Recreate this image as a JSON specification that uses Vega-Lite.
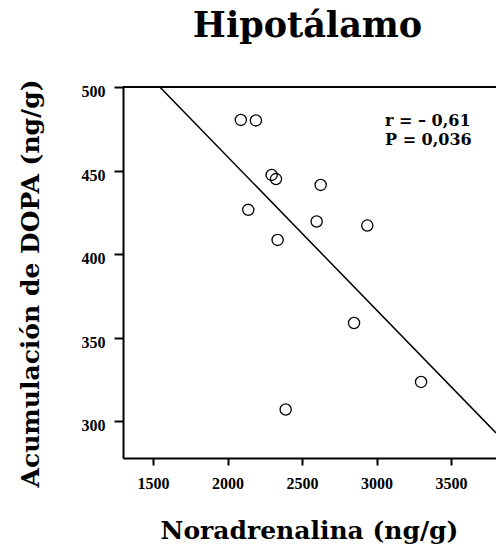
{
  "$schema": "https://vega.github.io/schema/vega-lite/v6.json",
  "width": 373,
  "height": 371,
  "autosize": {"type": "none"},
  "padding": {"left": 123, "top": 87, "right": 0, "bottom": 91},
  "background": "white",
  "config": {"view": {"stroke": null}},
  "title": {
    "text": "Hipotálamo",
    "font": "DejaVu Serif",
    "fontWeight": "bold",
    "fontSize": 35,
    "color": "black",
    "anchor": "middle",
    "frame": "group",
    "baseline": "alphabetic",
    "offset": 48,
    "dx": -2,
    "dy": 41
  },
  "datasets": {
    "points": [
      {"noradrenalina": 2089, "dopa": 480.3},
      {"noradrenalina": 2190, "dopa": 480.0},
      {"noradrenalina": 2296, "dopa": 447.4},
      {"noradrenalina": 2325, "dopa": 444.9},
      {"noradrenalina": 2625, "dopa": 441.4},
      {"noradrenalina": 2139, "dopa": 426.5},
      {"noradrenalina": 2598, "dopa": 419.5},
      {"noradrenalina": 2938, "dopa": 417.1},
      {"noradrenalina": 2336, "dopa": 408.5},
      {"noradrenalina": 2849, "dopa": 358.8},
      {"noradrenalina": 3299, "dopa": 323.5},
      {"noradrenalina": 2390, "dopa": 307.0}
    ],
    "fit": [
      {"noradrenalina": 1545, "dopa": 500},
      {"noradrenalina": 3802, "dopa": 293}
    ],
    "stats": [
      {"label": "r = – 0,61\nP = 0,036"}
    ]
  },
  "layer": [
    {
      "data": {"name": "points"},
      "mark": {"type": "point", "shape": "circle", "filled": false, "size": 125, "stroke": "black", "strokeWidth": 1.3, "opacity": 1},
      "encoding": {
        "x": {
          "field": "noradrenalina", "type": "quantitative",
          "scale": {"domain": [1298, 3802], "nice": false, "zero": false},
          "axis": {
            "title": "Noradrenalina (ng/g)",
            "titleFont": "DejaVu Serif", "titleFontWeight": "bold", "titleFontSize": 25, "titleColor": "black",
            "titleBaseline": "alphabetic", "titleX": 186, "titleY": 80, "titleAnchor": "middle",
            "values": [1500, 2000, 2500, 3000, 3500],
            "format": "d",
            "grid": false,
            "domainColor": "black", "domainWidth": 2,
            "tickColor": "black", "tickWidth": 2, "tickSize": 7,
            "labelFont": "Liberation Serif", "labelFontWeight": "bold", "labelFontSize": 16, "labelColor": "black",
            "labelBaseline": "alphabetic", "labelPadding": 23, "labelFlush": false
          }
        },
        "y": {
          "field": "dopa", "type": "quantitative",
          "scale": {"domain": [278, 500], "nice": false, "zero": false},
          "axis": {
            "title": "Acumulación de DOPA (ng/g)",
            "titleFont": "DejaVu Serif", "titleFontWeight": "bold", "titleFontSize": 25, "titleColor": "black",
            "titleBaseline": "alphabetic", "titleX": -85, "titleY": 196, "titleAngle": -90, "titleAnchor": "middle",
            "values": [300, 350, 400, 450, 500],
            "format": "d",
            "grid": false,
            "domainColor": "black", "domainWidth": 2,
            "tickColor": "black", "tickWidth": 2, "tickSize": 9,
            "labelFont": "Liberation Serif", "labelFontWeight": "bold", "labelFontSize": 16, "labelColor": "black",
            "labelBaseline": "alphabetic", "labelOffset": 9.5, "labelPadding": 9, "labelFlush": false
          }
        }
      }
    },
    {
      "data": {"name": "fit"},
      "mark": {"type": "line", "color": "black", "strokeWidth": 1.5, "clip": true},
      "encoding": {
        "x": {"field": "noradrenalina", "type": "quantitative"},
        "y": {"field": "dopa", "type": "quantitative"}
      }
    },
    {
      "data": {"name": "stats"},
      "mark": {"type": "rule", "color": "black", "strokeWidth": 2},
      "encoding": {"y": {"datum": 500}}
    },
    {
      "data": {"name": "stats"},
      "mark": {"type": "text", "font": "DejaVu Serif", "fontWeight": "bold", "fontSize": 16, "color": "black", "align": "left", "baseline": "alphabetic", "lineHeight": 19.5, "lineBreak": "\n"},
      "encoding": {
        "x": {"datum": 3057},
        "y": {"datum": 476.9},
        "text": {"field": "label", "type": "nominal"}
      }
    }
  ]
}
